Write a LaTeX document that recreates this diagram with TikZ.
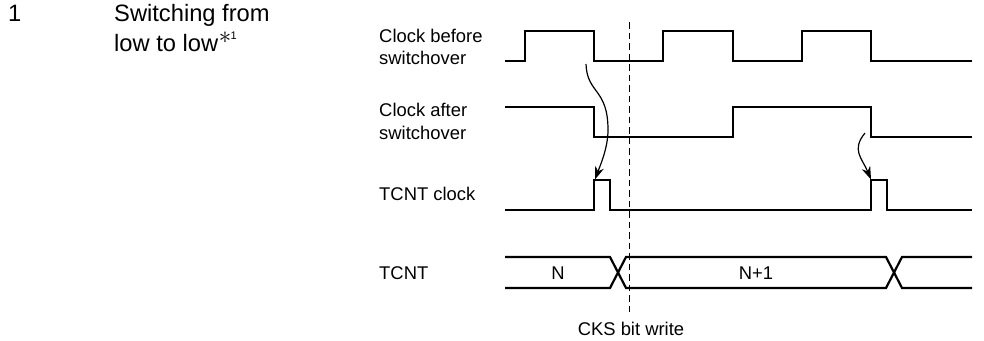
\documentclass[tikz,border=0pt]{standalone}
\usepackage{fontspec}
\setmainfont{Liberation Sans}
\usetikzlibrary{arrows.meta}
\newcommand{\starnote}{\kern0.5pt\raisebox{8pt}{\fontsize{23}{23}\selectfont$\ast$}\kern-0.5pt\raisebox{12pt}{\fontsize{11}{11}\selectfont 1}}
\begin{document}
\begin{tikzpicture}[
  x=1pt,y=-1pt,
  >={Stealth[length=13pt,width=9pt]},
  wave/.style={line width=2.2pt,line join=miter,line cap=butt},
  sigma/.style={anchor=west,align=left,inner sep=0pt,font=\fontsize{18.4}{22.5}\selectfont},
  lbl/.style={inner sep=0pt,font=\fontsize{18.4}{22.5}\selectfont},
  heading/.style={anchor=base west,align=left,inner sep=0pt,font=\fontsize{23.7}{30}\selectfont},
  cause/.style={->,line width=1.2pt},
  every path/.style={line width=0.45pt}]
\useasboundingbox (0,0) rectangle (984,340);
\node[heading] (num) at (8,21.7) {1};
\node[heading] (title) at (114,51.7) {Switching from\\low to low\starnote};
\node[sigma] (before) at (379,47) {Clock before\\switchover};
\node[sigma] (after) at (379,121.5) {Clock after\\switchover};
\node[sigma] (tcntclk) at (379,194) {TCNT clock};
\node[sigma] (tcnt) at (379,273) {TCNT};
\node[lbl] (n0) at (558,273) {N};
\node[lbl] (n1) at (756,273) {N+1};
\node[lbl] (cks) at (631,329) {CKS bit write};
% waveforms
\draw[wave] (505,61) -- (525,61) -- (525,31) -- (594,31) -- (594,61) -- (663,61)
  -- (663,31) -- (733,31) -- (733,61) -- (802,61) -- (802,31) -- (871,31)
  -- (871,61) -- (972,61);
\draw[wave] (505,107) -- (594,107) -- (594,137) -- (733,137) -- (733,107)
  -- (871,107) -- (871,137) -- (972,137);
\draw[wave] (505,210) -- (594,210) -- (594,180) -- (610,180) -- (610,210)
  -- (871,210) -- (871,180) -- (887,180) -- (887,210) -- (972,210);
\draw[wave] (505,257) -- (610,257) -- (626,288) -- (886,288) -- (902,257) -- (972,257);
\draw[wave] (505,288) -- (610,288) -- (626,257) -- (886,257) -- (902,288) -- (972,288);
% write strobe
\coordinate (strobetop) at (629,22);
\coordinate (strobebot) at (629,314);
\draw[dashed,line width=1pt,dash pattern=on 6.5pt off 4pt] (strobetop) -- (strobebot);
% cause arrows
\coordinate (fall1) at (586,64);
\coordinate (pulse1) at (595,179.5);
\coordinate (fall2) at (865,133);
\coordinate (pulse2) at (871,179.5);
\draw[cause] (fall1) .. controls (587,94) and (608,88) .. (608,130)
  .. controls (608,148) and (600,166) .. (pulse1);
\draw[cause] (fall2) .. controls (851,150) and (862,158) .. (pulse2);
\end{tikzpicture}
\end{document}
